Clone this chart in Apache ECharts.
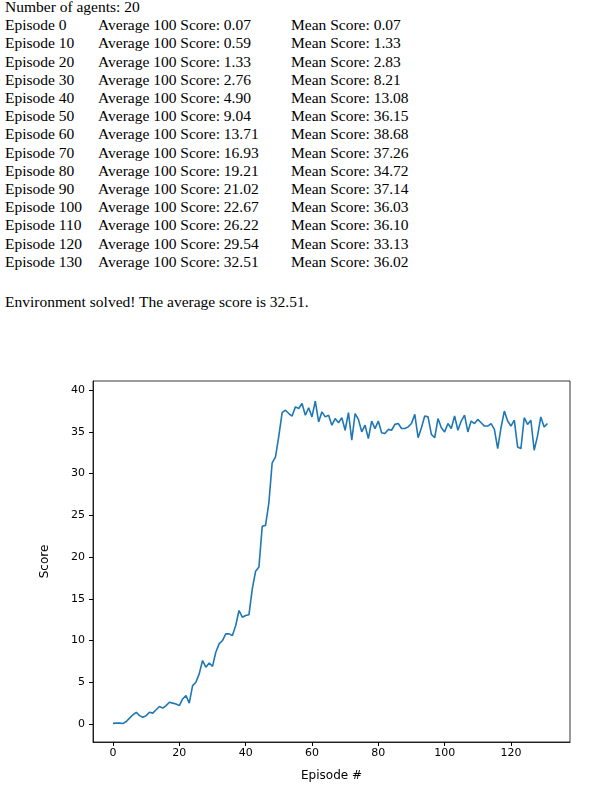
<!DOCTYPE html>
<html lang="en">
<head>
    <meta charset="UTF-8">
    <title>Scores</title>
    <script src="https://cdn.jsdelivr.net/npm/echarts@6/dist/echarts.min.js"></script>
    <style>
        body { margin: 0; width: 596px; height: 797px; position: relative; font-family: "Liberation Serif", serif; font-size: 15.5px; color: #000; }
        #log { position: absolute; left: 5px; top: -2px; line-height: 18.2px; }
        .row span { display: inline-block; }
        .c1 { width: 93px; }
        .c2 { width: 193px; }
        #solved { position: absolute; left: 5px; top: 293px; }
        #graph { position: absolute; left: 0; top: 360px; width: 596px; height: 437px; }
    </style>
</head>
<body>
    <div id="log"></div>
    <div id="solved">Environment solved! The average score is 32.51.</div>
    <div id="graph"></div>

    <script>
        var logEpisodes = [0, 10, 20, 30, 40, 50, 60, 70, 80, 90, 100, 110, 120, 130];
        var logAverage = ['0.07', '0.59', '1.33', '2.76', '4.90', '9.04', '13.71', '16.93', '19.21', '21.02', '22.67', '26.22', '29.54', '32.51'];
        var logMean = ['0.07', '1.33', '2.83', '8.21', '13.08', '36.15', '38.68', '37.26', '34.72', '37.14', '36.03', '36.10', '33.13', '36.02'];

        var scores = [
            0.07, 0.1, 0.1, 0.05, 0.3, 0.7, 1.1, 1.4, 1.0, 0.8,
            1.0, 1.4, 1.3, 1.7, 2.1, 1.9, 2.2, 2.6, 2.5, 2.4,
            2.2, 3.0, 3.4, 2.5, 4.6, 5.0, 6.0, 7.6, 6.8, 7.3,
            6.9, 8.6, 9.6, 10.0, 10.8, 10.8, 10.6, 11.8, 13.6, 12.8,
            13.0, 13.1, 16.2, 18.3, 18.8, 23.7, 23.8, 26.5, 31.3, 32.0,
            34.5, 37.3, 37.6, 37.2, 36.9, 38.0, 37.8, 38.4, 37.0, 37.9,
            36.8, 38.7, 36.2, 37.4, 36.8, 37.0, 35.8, 36.6, 36.1, 36.7,
            35.2, 37.3, 34.0, 37.2, 36.5, 35.0, 35.8, 34.2, 36.3, 35.4,
            36.3, 34.9, 34.8, 35.3, 35.2, 35.9, 36.0, 35.4, 35.4, 35.6,
            36.0, 37.1, 34.3, 35.5, 36.9, 36.8, 34.7, 34.3, 36.6, 35.5,
            35.0, 36.0, 35.4, 36.9, 35.2, 36.3, 37.0, 35.0, 36.3, 36.0,
            36.5, 36.1, 35.7, 35.7, 36.0, 35.3, 33.0, 35.5, 37.5, 36.3,
            35.7, 36.4, 33.2, 33.0, 36.7, 35.9, 36.4, 32.8, 34.5, 36.8,
            35.6, 36.0
        ];
        var xTicks = [0, 20, 40, 60, 80, 100, 120];
        var yTicks = [0, 5, 10, 15, 20, 25, 30, 35, 40];

        var html = '<div>Number of agents: 20</div>';
        for (var i = 0; i < logEpisodes.length; i++) {
            html += '<div class="row"><span class="c1">Episode ' + logEpisodes[i] + '</span>' +
                '<span class="c2">Average 100 Score: ' + logAverage[i] + '</span>' +
                '<span>Mean Score: ' + logMean[i] + '</span></div>';
        }
        document.getElementById('log').innerHTML = html;

        var pts = [];
        for (var j = 0; j < scores.length; j++) pts.push([j, scores[j]]);

        var lbl = { color: '#000', fontFamily: 'DejaVu Sans', fontSize: 11 };
        var myChart = echarts.init(document.getElementById('graph'));
        var option = {
            animation: false,
            grid: { left: 93, right: 26, top: 21, bottom: 55 },
            xAxis: {
                type: 'value', min: -6.03, max: 137.8,
                name: 'Episode #', nameLocation: 'middle', nameGap: 28,
                nameTextStyle: { color: '#000', fontFamily: 'DejaVu Sans', fontSize: 12 },
                axisLine: { onZero: false, lineStyle: { color: '#000', width: 0.8 } },
                axisTick: { customValues: xTicks, length: 4, lineStyle: { color: '#000' } },
                axisLabel: Object.assign({ customValues: xTicks, margin: 6 }, lbl),
                splitLine: { show: false }
            },
            yAxis: {
                type: 'value', min: -2.16, max: 41.1,
                name: 'Score', nameLocation: 'middle', nameGap: 42,
                nameTextStyle: { color: '#000', fontFamily: 'DejaVu Sans', fontSize: 12 },
                axisLine: { show: true, onZero: false, lineStyle: { color: '#000', width: 0.8 } },
                axisTick: { show: true, customValues: yTicks, length: 4, lineStyle: { color: '#000' } },
                axisLabel: Object.assign({ customValues: yTicks, margin: 8 }, lbl),
                splitLine: { show: false }
            },
            series: [
                {
                    type: 'line', data: pts, showSymbol: false,
                    lineStyle: { color: '#1f77b4', width: 1.6 },
                    markArea: { silent: true, itemStyle: { color: 'none', borderColor: '#000', borderWidth: 0.8 },
                        data: [[{ coord: [-6.03, -2.16] }, { coord: [137.8, 41.1] }]] }
                }
            ]
        };
        myChart.setOption(option);
    </script>
</body>
</html>
